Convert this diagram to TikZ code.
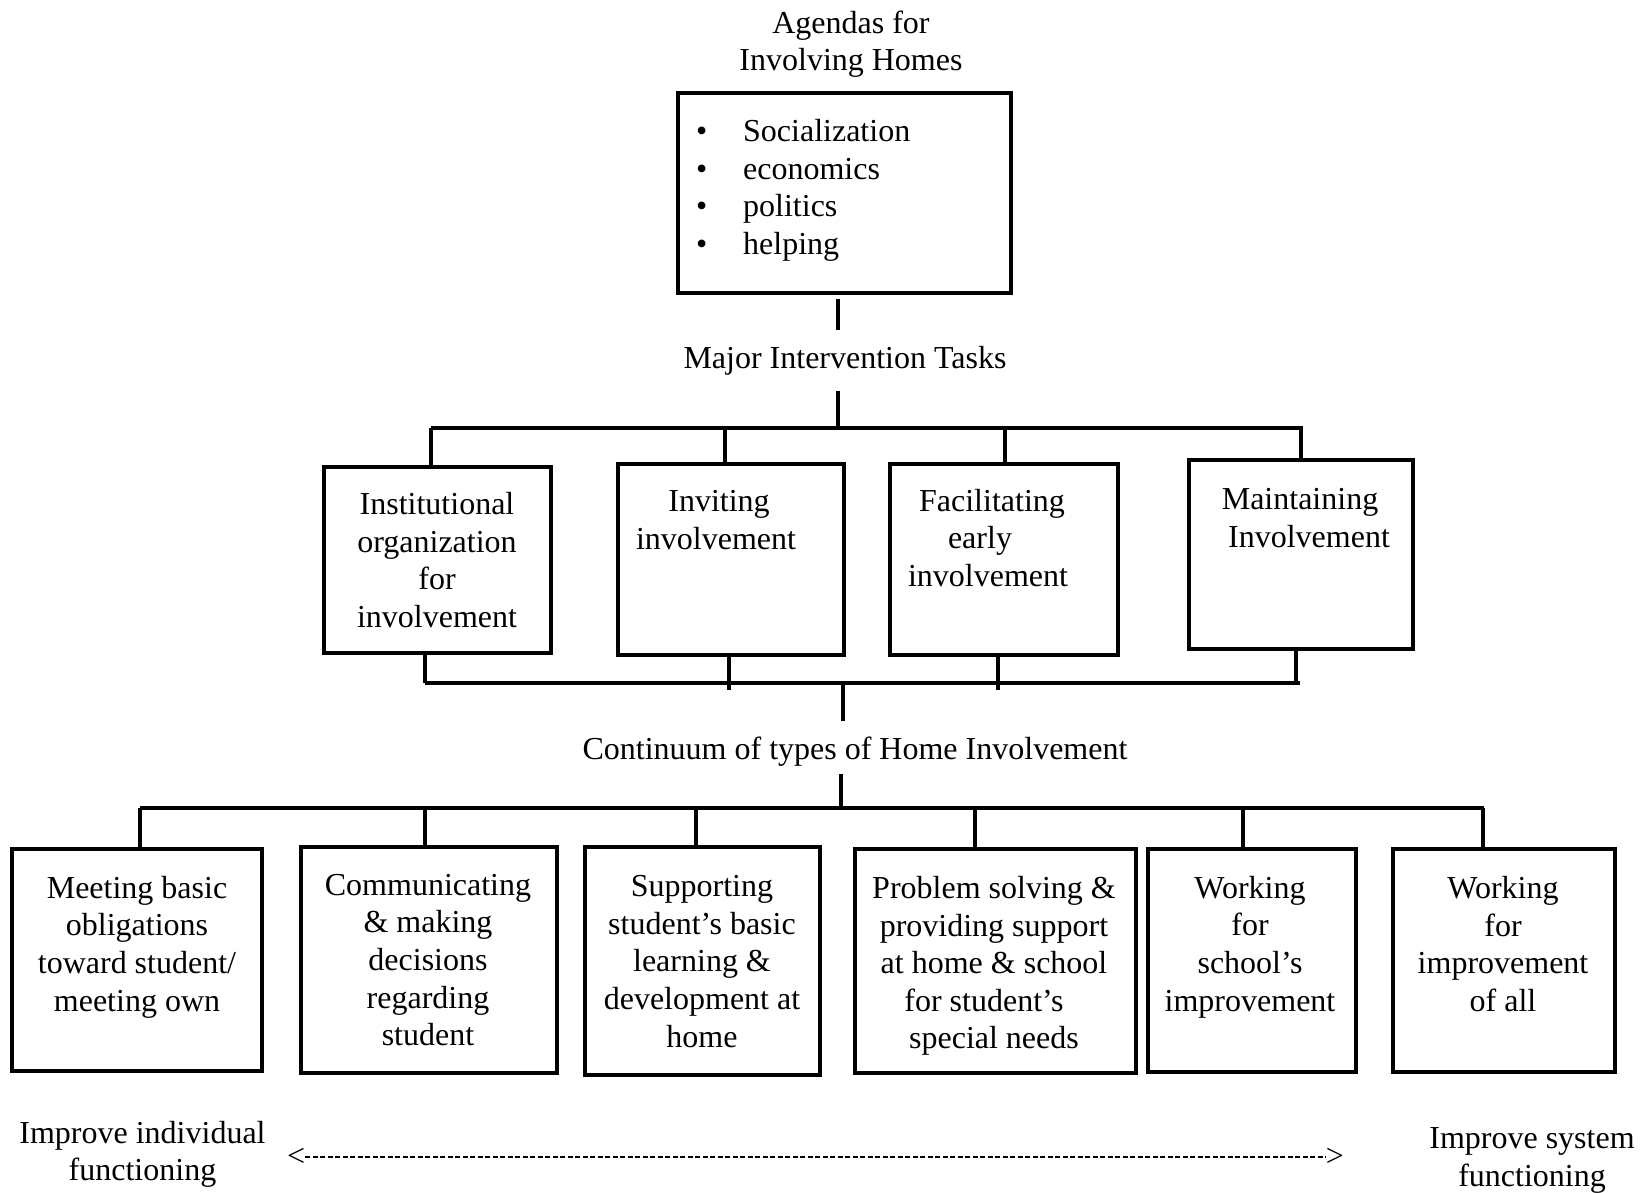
\documentclass[tikz,border=0pt]{standalone}
\usepackage{fontspec}
\setmainfont{Liberation Serif}
\usetikzlibrary{calc}
\begin{document}
\begin{tikzpicture}[x=1pt,y=-1pt,
  box/.style={draw,line width=3.2pt,inner sep=0pt,rectangle},
  txt/.style={align=center,inner sep=0pt,font=\fontsize{32}{37.6}\selectfont},
  conn/.style={line width=3.2pt}]
\useasboundingbox (0,0) rectangle (1648,1193);
\fill[white] (0,0) rectangle (1648,1193);
% top
\node[txt] (title) at (851,44) {Agendas for\\Involving Homes};
\node[box,minimum width=333pt,minimum height=200pt] (agenda) at (844.5,193) {};
\node[txt,align=left,anchor=west] (items) at (696,190.5)
 {\makebox[47pt][l]{\textbullet}Socialization\\\makebox[47pt][l]{\textbullet}economics\\\makebox[47pt][l]{\textbullet}politics\\\makebox[47pt][l]{\textbullet}helping};
\node[txt] (mit) at (845,361) {Major Intervention Tasks};
\draw[conn] ([xshift=-6.5pt,yshift=-4pt]agenda.south) -- ([xshift=-6.5pt]agenda.south |- 0,330);
% bus 1
\coordinate (b1L) at (431,428);
\coordinate (b1R) at (1303,428);
\coordinate (b1M) at (838,428);
\draw[conn] (b1M |- 0,391) -- (b1M);
\draw[conn] (b1L) -- (b1R);
% row 1 boxes
\node[box,minimum width=227pt,minimum height=186pt] (t1) at (437.5,560) {};
\node[box,minimum width=226pt,minimum height=191pt] (t2) at (731,559.5) {};
\node[box,minimum width=228pt,minimum height=191pt] (t3) at (1004,559.5) {};
\node[box,minimum width=224pt,minimum height=189pt] (t4) at (1301,554.5) {};
\node[txt] (t1x) at (437,560) {Institutional\\organization\\for\\involvement};
\node[txt] (t2x) at (716,520) {\hspace{6pt}Inviting\\involvement};
\node[txt] (t3x) at (988,538) {\hspace{8pt}Facilitating\\\hspace{-16pt}early\\involvement};
\node[txt] (t4x) at (1309,518) {\hspace{-18pt}Maintaining\\Involvement};
\draw[conn] ([xshift=-6.5pt]t1.north) -- ([xshift=-6.5pt]t1.north |- b1L);
\draw[conn] ([xshift=-6pt]t2.north) -- ([xshift=-6pt]t2.north |- b1L);
\draw[conn] ([xshift=1pt]t3.north) -- ([xshift=1pt]t3.north |- b1L);
\draw[conn] (t4.north) -- (t4.north |- b1L);
% bus 2
\coordinate (b2L) at (425,683);
\coordinate (b2R) at (1300,683);
\coordinate (b2M) at (843,683);
\draw[conn] (b2L) -- (b2R);
\draw[conn] ([xshift=-12.5pt]t1.south) -- ([xshift=-12.5pt]t1.south |- b2L);
\draw[conn] ([xshift=-2pt]t2.south) -- ([xshift=-2pt,yshift=-7pt]t2.south |- b2L);
\draw[conn] ([xshift=-6pt]t3.south) -- ([xshift=-6pt,yshift=-7pt]t3.south |- b2L);
\draw[conn] ([xshift=-5pt]t4.south) -- ([xshift=-5pt]t4.south |- b2L);
\node[txt] (cont) at (855,752) {Continuum of types of Home Involvement};
\draw[conn] (b2M) -- (b2M |- 0,721);
% bus 3
\coordinate (b3L) at (140,808);
\coordinate (b3R) at (1484,808);
\coordinate (b3M) at (841,808);
\draw[conn] (b3M |- 0,774) -- (b3M);
\draw[conn] (b3L) -- (b3R);
% row 2 boxes
\node[box,minimum width=250pt,minimum height=222pt] (u1) at (137,960) {};
\node[box,minimum width=256pt,minimum height=226pt] (u2) at (429,960) {};
\node[box,minimum width=235pt,minimum height=228pt] (u3) at (702.5,961) {};
\node[box,minimum width=281pt,minimum height=224pt] (u4) at (995.5,961) {};
\node[box,minimum width=208pt,minimum height=223pt] (u5) at (1252,960.5) {};
\node[box,minimum width=222pt,minimum height=223pt] (u6) at (1504,960.5) {};
\node[txt] (u1x) at (137,947) {Meeting basic\\obligations\\toward student/\\meeting own};
\node[txt] (u2x) at (428,960) {Communicating\\\& making\\decisions\\regarding\\student};
\node[txt] (u3x) at (702,961.5) {Supporting\\student’s basic\\learning \&\\development at\\home};
\node[txt] (u4x) at (994,966) {Problem solving \&\\providing support\\at home \& school\\\hspace{-20pt}for student’s\\special needs};
\node[txt] (u5x) at (1250,947) {Working\\for\\school’s\\improvement};
\node[txt] (u6x) at (1503,944) {Working\\for\\improvement\\of all};
\draw[conn] ([xshift=3pt]u1.north) -- ([xshift=3pt]u1.north |- b3L);
\draw[conn] ([xshift=-4pt]u2.north) -- ([xshift=-4pt]u2.north |- b3L);
\draw[conn] ([xshift=-6.5pt]u3.north) -- ([xshift=-6.5pt]u3.north |- b3L);
\draw[conn] ([xshift=-20.5pt]u4.north) -- ([xshift=-20.5pt]u4.north |- b3L);
\draw[conn] ([xshift=-9pt]u5.north) -- ([xshift=-9pt]u5.north |- b3L);
\draw[conn] ([xshift=-21pt]u6.north) -- ([xshift=-21pt]u6.north |- b3L);
% bottom
\node[txt] (indiv) at (142.5,1154.5) {Improve individual\\functioning};
\node[txt] (syst) at (1532,1160.5) {Improve system\\functioning};
\node[txt,anchor=west] (la) at (287,1157) {<};
\node[txt,anchor=east] (ra) at (1344,1157) {>};
\draw[line width=2.3pt,dash pattern=on 5pt off 2.5pt] (la.east) -- (ra.west);
\end{tikzpicture}
\end{document}
